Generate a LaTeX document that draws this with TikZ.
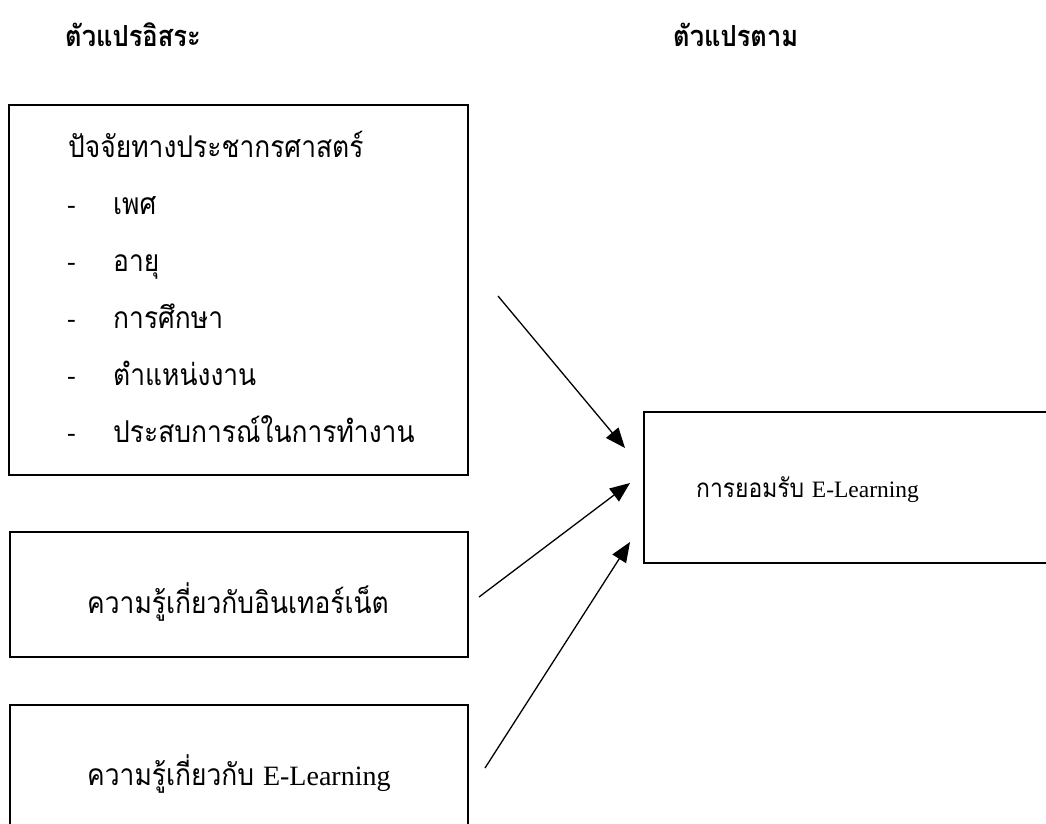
\documentclass[tikz,border=0pt]{standalone}
\usepackage{fontspec}
\setmainfont{Liberation Serif}
\newfontfamily\thaifont[Script=Thai, FakeStretch=0.88]{Loma}
\usetikzlibrary{arrows.meta}

\tikzset{
    box/.style={draw, line width=1.1pt, inner sep=0pt},
    txt/.style={inner sep=0pt, anchor=base west, font=\thaifont\fontsize{30}{34}\selectfont},
    head/.style={inner sep=0pt, anchor=base west, font=\thaifont\bfseries\fontsize{29}{33}\selectfont}
}
\newcommand{\eln}[1]{{\rmfamily\fontsize{#1}{#1}\selectfont E-Learning}}

\begin{document}
\begin{tikzpicture}[x=1pt, y=-1pt, >={Triangle[length=20pt,width=16pt]}]
    \clip (0,0) rectangle (1046,823);

    % parameters
    \def\rowstep{57}            % distance between list rows
    \def\rowtop{157}            % baseline of the box title

    % --- headings ---
    \node[head] (indep) at (65,46) {ตัวแปรอิสระ};
    \node[head] (dep) at (673,46) {ตัวแปรตาม};

    % --- left boxes ---
    \node[box, minimum width=459pt, minimum height=370pt] (demo) at (238.5,290) {};
    \node[box, minimum width=458pt, minimum height=125pt] (net) at (239,594.5) {};
    \node[box, minimum width=458pt, minimum height=130pt] (elearn) at (239,770) {};

    % --- right box ---
    \node[box, minimum width=416pt, minimum height=151pt] (accept) at (852,487.5) {};

    % --- texts ---
    \node[txt] (demotitle) at (68,\rowtop) {ปัจจัยทางประชากรศาสตร์};
    \foreach \t [count=\i] in {เพศ, อายุ, การศึกษา, ตำแหน่งงาน, ประสบการณ์ในการทำงาน} {%
        \node[txt, font=\rmfamily\fontsize{26}{30}\selectfont] (dash\i) at (67,\rowtop+\rowstep*\i-1) {-};%
        \node[txt] (item\i) at (113,\rowtop+\rowstep*\i) {\t};%
    }
    \node[txt] (nettext) at (87,613) {ความรู้เกี่ยวกับอินเทอร์เน็ต};
    \node[txt] (eltext) at (87,785) {ความรู้เกี่ยวกับ \eln{28}};
    \node[txt, font=\thaifont\fontsize{26}{30}\selectfont] (acctext) at (696,497) {การยอมรับ \eln{23.5}};

    % --- arrow ends ---
    \coordinate (a1) at (498,296);
    \coordinate (t1) at (625,448);
    \coordinate (a2) at (479,597);
    \coordinate (t2) at (630,483);
    \coordinate (a3) at (485,768);
    \coordinate (t3) at (630,542);

    \draw[->, line width=1.3pt] (a1) -- (t1);
    \draw[->, line width=1.3pt] (a2) -- (t2);
    \draw[->, line width=1.3pt] (a3) -- (t3);

\end{tikzpicture}
\end{document}
